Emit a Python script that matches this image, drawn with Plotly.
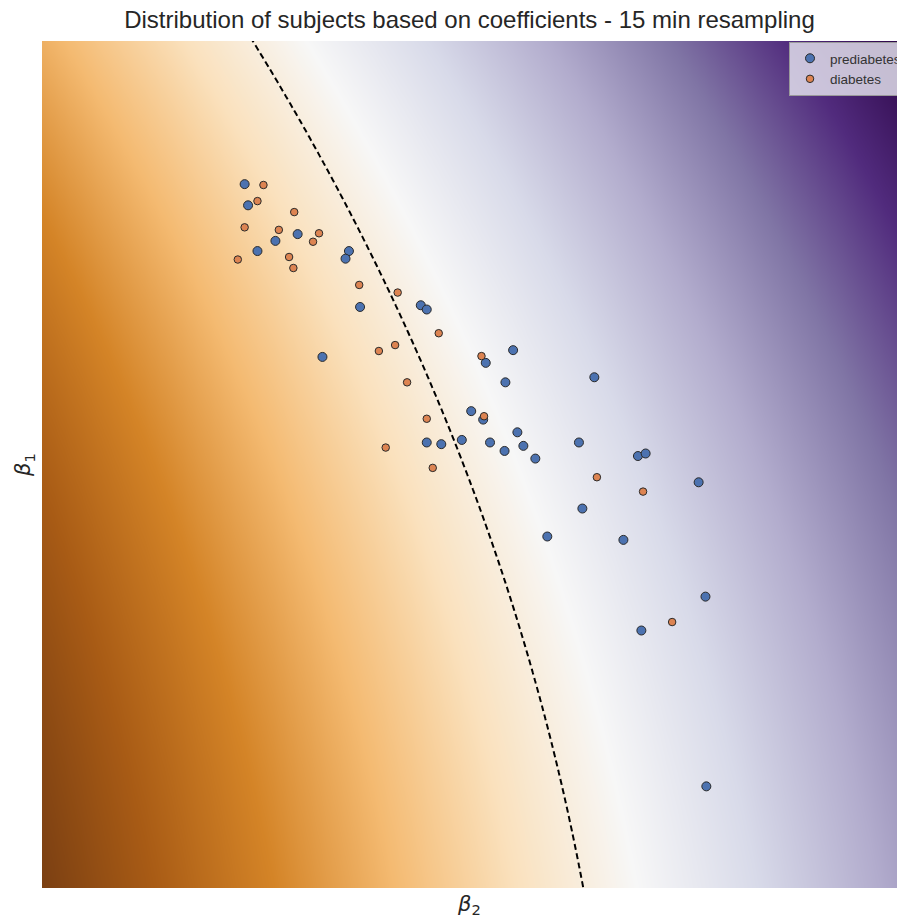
import numpy as np
import plotly.graph_objects as go

TITLE = "Distribution of subjects based on coefficients - 15 min resampling"
X_LABEL = "<i>β</i><sub>2</sub>"
Y_LABEL = "<i>β</i><sub>1</sub>"

# prediabetes subjects (beta2, beta1) in plot units
pre_b2 = [0.237, 0.241, 0.299, 0.273, 0.252, 0.359, 0.355, 0.372, 0.443, 0.450,
          0.328, 0.551, 0.519, 0.542, 0.646, 0.502, 0.516, 0.556, 0.450, 0.467,
          0.491, 0.524, 0.563, 0.541, 0.577, 0.628, 0.697, 0.706, 0.768, 0.632,
          0.591, 0.680, 0.776, 0.701, 0.777]
pre_b1 = [0.831, 0.806, 0.772, 0.764, 0.752, 0.752, 0.743, 0.686, 0.688, 0.683,
          0.627, 0.635, 0.620, 0.597, 0.603, 0.563, 0.553, 0.538, 0.526, 0.524,
          0.529, 0.526, 0.522, 0.516, 0.507, 0.526, 0.510, 0.513, 0.479, 0.448,
          0.415, 0.411, 0.344, 0.304, 0.120]

# diabetes subjects
dia_b2 = [0.259, 0.252, 0.295, 0.237, 0.277, 0.324, 0.317, 0.229, 0.289, 0.294,
          0.371, 0.416, 0.464, 0.413, 0.394, 0.514, 0.427, 0.517, 0.450, 0.402,
          0.457, 0.649, 0.703, 0.737]
dia_b1 = [0.830, 0.811, 0.798, 0.780, 0.777, 0.773, 0.763, 0.742, 0.745, 0.732,
          0.712, 0.703, 0.655, 0.641, 0.634, 0.628, 0.597, 0.557, 0.554, 0.520,
          0.496, 0.485, 0.468, 0.314]

# decision boundary (dashed)
boundary_b2 = [0.243, 0.322, 0.375, 0.430, 0.442, 0.481, 0.521, 0.559, 0.591, 0.632]
boundary_b1 = [1.000, 0.883, 0.765, 0.647, 0.623, 0.529, 0.423, 0.308, 0.198, 0.001]

PUOR = ["#7f3b08", "#b35806", "#e08214", "#fdb863", "#fee0b6", "#f7f7f7",
        "#d8daeb", "#b2abd2", "#8073ac", "#542788", "#2d004b"]


def soften(hex_color, amount=0.15):
    r, g, b = (int(hex_color[i:i + 2], 16) for i in (1, 3, 5))
    lum = 0.3 * r + 0.59 * g + 0.11 * b
    r, g, b = (round(c * (1 - amount) + lum * amount) for c in (r, g, b))
    return f"rgb({r},{g},{b})"


colorscale = [[i / (len(PUOR) - 1), soften(c)] for i, c in enumerate(PUOR)]

# background field: signed horizontal distance from the fitted boundary
coef = np.polyfit(boundary_b1, boundary_b2, 3)
gx = np.linspace(-0.01, 1.01, 260)
gy = np.linspace(-0.01, 1.01, 260)
GX, GY = np.meshgrid(gx, gy)
Z = GX - np.polyval(coef, GY)

fig = go.Figure()
fig.add_trace(go.Heatmap(x=gx, y=gy, z=Z, colorscale=colorscale,
                         zmin=float(Z.min()), zmax=float(Z.max()),
                         zsmooth="best", showscale=False, hoverinfo="skip",
                         showlegend=False))
fig.add_trace(go.Contour(x=gx, y=gy, z=Z, showscale=False, hoverinfo="skip",
                         showlegend=False,
                         contours=dict(start=0, end=0, size=1, coloring="none"),
                         line=dict(color="black", width=2, dash="6px,3.5px",
                                   smoothing=1)))
fig.add_trace(go.Scatter(x=pre_b2, y=pre_b1, mode="markers", name="prediabetes",
                         marker=dict(size=9, color="#4c72b0",
                                     line=dict(color="#2a2a2a", width=1))))
fig.add_trace(go.Scatter(x=dia_b2, y=dia_b1, mode="markers", name="diabetes",
                         marker=dict(size=7.5, color="#dd8452",
                                     line=dict(color="#2a2a2a", width=1))))

fig.update_layout(
    width=897, height=918,
    margin=dict(l=42, r=0, t=41, b=30, autoexpand=False),
    paper_bgcolor="white", plot_bgcolor="white",
    title=dict(text=TITLE, x=0.5, xref="paper", xanchor="center",
               y=1 - 20 / 918, yref="container", yanchor="middle",
               font=dict(family="Liberation Sans", size=24, color="#262626")),
    legend=dict(x=(789 - 42) / 855, y=1 - 1 / 847, xanchor="left", yanchor="top",
                bgcolor="rgba(234,234,242,0.8)", bordercolor="#9a9a9a",
                borderwidth=1, tracegroupgap=0,
                font=dict(family="Liberation Sans", size=13.5, color="#333333")),
    xaxis=dict(range=[0, 1], showticklabels=False, showgrid=False, zeroline=False,
               ticks="", title=dict(text=X_LABEL, standoff=12,
                                    font=dict(family="DejaVu Sans", size=21,
                                              color="#262626"))),
    yaxis=dict(range=[0, 1], showticklabels=False, showgrid=False, zeroline=False,
               ticks="", title=dict(text=Y_LABEL, standoff=4,
                                    font=dict(family="DejaVu Sans", size=21,
                                              color="#262626"))),
)

fig.write_html("out.html")
